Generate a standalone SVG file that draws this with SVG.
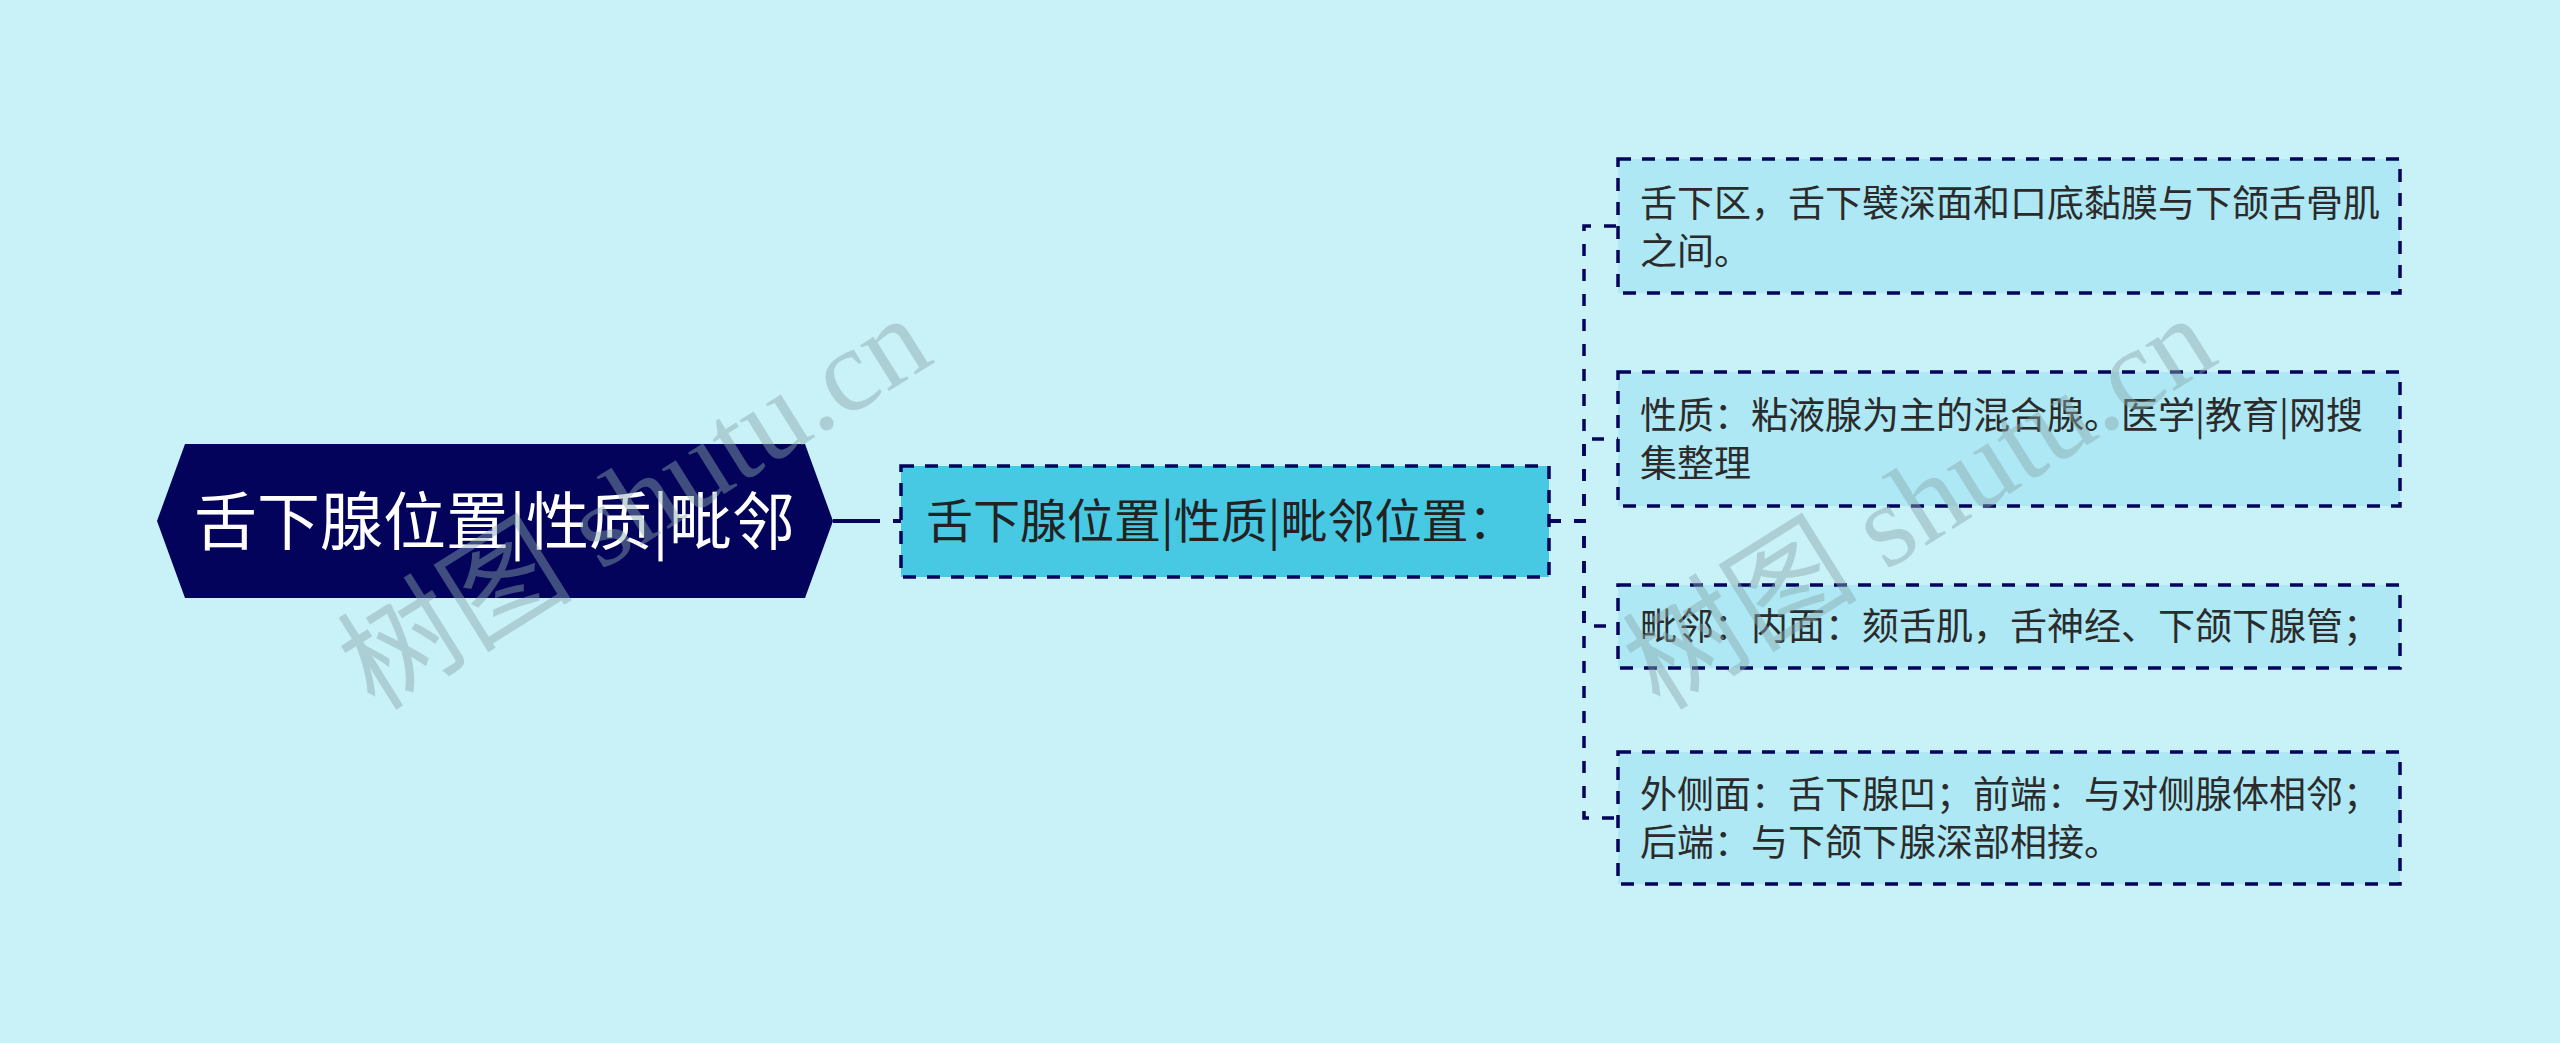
<svg xmlns="http://www.w3.org/2000/svg" width="2560" height="1043" viewBox="0 0 2560 1043">
<style>
.bg{fill:#C9F1F8}
.root{fill:#03035B}
.rootText{fill:#FFFFFF;font-family:"Noto Sans CJK SC","Noto Sans",sans-serif;font-size:63px}
.mid{fill:#48C9E3;stroke:#03035B;stroke-width:3.5;stroke-dasharray:13 11}
.midText{fill:#222222;font-family:"Noto Sans CJK SC","Noto Sans",sans-serif;font-size:47px}
.leaf{fill:#ADE8F4;stroke:#03035B;stroke-width:3.5;stroke-dasharray:13 11}
.leafText{fill:#2B2B2B;font-family:"Noto Sans CJK SC","Noto Sans",sans-serif;font-size:37px}
.conn{fill:none;stroke:#03035B;stroke-width:3.5;stroke-dasharray:12 13}
.wm{fill:#8AA8AC;opacity:0.45;font-family:"Liberation Serif","Noto Sans CJK SC",serif;font-size:118px}
</style>
<rect class="bg" x="0" y="0" width="2560" height="1043"/>
<g id="connectors">
<path d="M833,521 H880" fill="none" stroke="#03035B" stroke-width="4"/>
<path d="M893,521 H901" fill="none" stroke="#03035B" stroke-width="4"/>
<path class="conn" d="M1549,521 H1584 V226 H1618"/>
<path class="conn" d="M1549,521 H1584 V439 H1618"/>
<path class="conn" d="M1549,521 H1584 V626 H1618"/>
<path class="conn" d="M1549,521 H1584 V818 H1618"/>
</g>
<g id="root">
<polygon class="root" points="157,521 185,444 805,444 833,521 805,598 185,598"/>
<text class="rootText" x="194" y="544">舌下腺位置|性质|毗邻</text>
</g>
<g id="middle">
<rect class="mid" x="901" y="466" width="648" height="111"/>
<text class="midText" x="926" y="538">舌下腺位置|性质|毗邻位置：</text>
</g>
<g id="leaf1">
<rect class="leaf" x="1618" y="159" width="782" height="134"/>
<text class="leafText" x="1640" y="217">舌下区，舌下襞深面和口底黏膜与下颌舌骨肌</text>
<text class="leafText" x="1640" y="265">之间。</text>
</g>
<g id="leaf2">
<rect class="leaf" x="1618" y="372" width="782" height="134"/>
<text class="leafText" x="1640" y="429">性质：粘液腺为主的混合腺。医学|教育|网搜</text>
<text class="leafText" x="1640" y="477">集整理</text>
</g>
<g id="leaf3">
<rect class="leaf" x="1618" y="585" width="782" height="83"/>
<text class="leafText" x="1640" y="640">毗邻：内面：颏舌肌，舌神经、下颌下腺管；</text>
</g>
<g id="leaf4">
<rect class="leaf" x="1618" y="752" width="782" height="132"/>
<text class="leafText" x="1640" y="808">外侧面：舌下腺凹；前端：与对侧腺体相邻；</text>
<text class="leafText" x="1640" y="856">后端：与下颌下腺深部相接。</text>
</g>
<g id="watermarks">
<text class="wm" transform="translate(375,712) rotate(-32)">树图 shutu.cn</text>
<text class="wm" transform="translate(1660,712) rotate(-32)">树图 shutu.cn</text>
</g>
</svg>
